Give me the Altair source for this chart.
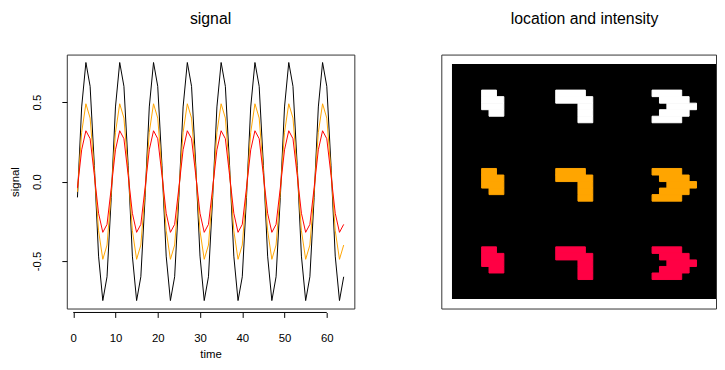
import altair as alt
import pandas as pd

# ---------------- data: signal panel ----------------
time = list(range(1, 65))
black_signal = [
    -0.10, 0.47, 0.75, 0.60, 0.10, -0.47, -0.75, -0.60,
    -0.10, 0.47, 0.75, 0.60, 0.10, -0.47, -0.75, -0.60,
    -0.10, 0.47, 0.75, 0.60, 0.10, -0.47, -0.75, -0.60,
    -0.10, 0.47, 0.75, 0.60, 0.10, -0.47, -0.75, -0.60,
    -0.10, 0.47, 0.75, 0.60, 0.10, -0.47, -0.75, -0.60,
    -0.10, 0.47, 0.75, 0.60, 0.10, -0.47, -0.75, -0.60,
    -0.10, 0.47, 0.75, 0.60, 0.10, -0.47, -0.75, -0.60,
    -0.10, 0.47, 0.75, 0.60, 0.10, -0.47, -0.75, -0.60,
]
orange_signal = [
    -0.065, 0.31, 0.49, 0.40, 0.065, -0.31, -0.49, -0.40,
    -0.065, 0.31, 0.49, 0.40, 0.065, -0.31, -0.49, -0.40,
    -0.065, 0.31, 0.49, 0.40, 0.065, -0.31, -0.49, -0.40,
    -0.065, 0.31, 0.49, 0.40, 0.065, -0.31, -0.49, -0.40,
    -0.065, 0.31, 0.49, 0.40, 0.065, -0.31, -0.49, -0.40,
    -0.065, 0.31, 0.49, 0.40, 0.065, -0.31, -0.49, -0.40,
    -0.065, 0.31, 0.49, 0.40, 0.065, -0.31, -0.49, -0.40,
    -0.065, 0.31, 0.49, 0.40, 0.065, -0.31, -0.49, -0.40,
]
red_signal = [
    -0.04, 0.20, 0.32, 0.27, 0.04, -0.20, -0.32, -0.27,
    -0.04, 0.20, 0.32, 0.27, 0.04, -0.20, -0.32, -0.27,
    -0.04, 0.20, 0.32, 0.27, 0.04, -0.20, -0.32, -0.27,
    -0.04, 0.20, 0.32, 0.27, 0.04, -0.20, -0.32, -0.27,
    -0.04, 0.20, 0.32, 0.27, 0.04, -0.20, -0.32, -0.27,
    -0.04, 0.20, 0.32, 0.27, 0.04, -0.20, -0.32, -0.27,
    -0.04, 0.20, 0.32, 0.27, 0.04, -0.20, -0.32, -0.27,
    -0.04, 0.20, 0.32, 0.27, 0.04, -0.20, -0.32, -0.27,
]
series_names = ["black", "orange", "red"]
series_colors = ["#000000", "#FFA500", "#FF0000"]
x_ticks = [0, 10, 20, 30, 40, 50, 60]
y_ticks = [-0.5, 0.0, 0.5]

# ---------------- data: image panel ----------------
n_rows = 36
n_cols = 36
block_rows = [4, 16, 28]
block_colors = ["#FFFFFF", "#FFA500", "#FF0044"]
shape_cols = [4, 14, 27]
# each shape: per row, the [first, last] column offsets of its filled run
shape_small = [[0, 1], [0, 2], [0, 2], [1, 2]]
shape_hook = [[0, 3], [0, 4], [3, 4], [3, 4], [3, 4]]
shape_arrow = [[0, 3], [1, 4], [2, 5], [1, 4], [0, 3]]
shapes = [shape_small, shape_hook, shape_arrow]

FONT = "Liberation Sans"

# ---------------- left panel ----------------
W1, H = 291, 257
sig_df = pd.DataFrame({
    "time": time * 3,
    "signal": black_signal + orange_signal + red_signal,
    "series": ["black"] * 64 + ["orange"] * 64 + ["red"] * 64,
})

xs = alt.Scale(domain=[-1.52, 66.52], nice=False, zero=False, padding=0)
ys = alt.Scale(domain=[-0.80, 0.80], nice=False, zero=False, padding=0)

xaxis = alt.Axis(values=x_ticks, title="time", grid=False, domain=False,
                 tickSize=5, tickColor="black", offset=4,
                 labelFont=FONT, labelFontSize=11.5, labelColor="black",
                 labelBaseline="top", labelPadding=15, labelFlush=False,
                 labelOverlap=False, format="d",
                 titleFont=FONT, titleFontSize=11.5, titleFontWeight="normal",
                 titleColor="black", titleBaseline="top", titlePadding=5)
yaxis = alt.Axis(values=y_ticks, title="signal", grid=False, domain=False,
                 tickSize=5, tickColor="black",
                 labelFont=FONT, labelFontSize=11.5, labelColor="black",
                 labelAngle=270, labelAlign="center", labelBaseline="alphabetic",
                 labelPadding=22, labelFlush=False, labelOverlap=False,
                 labelExpr="(datum.value < 0 ? '-' : '') + format(abs(datum.value), '.1f')",
                 titleFont=FONT, titleFontSize=11.5, titleFontWeight="normal",
                 titleColor="black", titleAngle=270, titleAlign="center",
                 titleBaseline="alphabetic", titleX=-49, titleY=H / 2)

layers = []
for name, col in zip(series_names, series_colors):
    layers.append(
        alt.Chart(sig_df).transform_filter(alt.datum.series == name)
        .mark_line(color=col, strokeWidth=1)
        .encode(x=alt.X("time:Q", scale=xs, axis=xaxis),
                y=alt.Y("signal:Q", scale=ys, axis=yaxis))
    )

axis_line = alt.Chart(pd.DataFrame({"a": [x_ticks[0]], "b": [x_ticks[-1]]})).mark_rule(
    color="black", strokeWidth=1, clip=False
).encode(x=alt.X("a:Q", scale=xs, axis=xaxis), x2="b", y=alt.value(H + 4))

left = alt.layer(*layers, axis_line).properties(
    width=W1, height=H,
    title=alt.TitleParams("signal", font=FONT, fontSize=16, fontWeight="normal",
                          color="black", anchor="middle", baseline="top", offset=28),
)

# ---------------- right panel ----------------
W2 = 278
cells = []
for b_row, b_col in zip(block_rows, block_colors):
    for s_col, shape in zip(shape_cols, shapes):
        for dr, (first, last) in enumerate(shape):
            r = b_row + dr
            cells.append({"c0": s_col + first, "c1": s_col + last + 1,
                          "r0": r, "r1": r + 1, "color": b_col})
cells_df = pd.DataFrame(cells)
bg_df = pd.DataFrame({"c0": [0], "c1": [n_cols], "r0": [0], "r1": [n_rows]})

cs = alt.Scale(domain=[-1.44, 35.63], nice=False, zero=False, padding=0)
rs = alt.Scale(domain=[-1.44, 37.44], nice=False, zero=False, reverse=True, padding=0)

bg = alt.Chart(bg_df).mark_rect(color="black", clip=True).encode(
    x=alt.X("c0:Q", scale=cs, axis=None), x2="c1",
    y=alt.Y("r0:Q", scale=rs, axis=None), y2="r1")
px = alt.Chart(cells_df).mark_rect(strokeWidth=1, clip=True).encode(
    x=alt.X("c0:Q", scale=cs, axis=None), x2="c1",
    y=alt.Y("r0:Q", scale=rs, axis=None), y2="r1",
    color=alt.Color("color:N", scale=None),
    stroke=alt.Stroke("color:N", scale=None))

right = alt.layer(bg, px).properties(
    width=W2, height=H,
    title=alt.TitleParams("location and intensity", font=FONT, fontSize=16,
                          fontWeight="normal", color="black", anchor="middle",
                          baseline="top", offset=28, dx=6),
)

chart = alt.hconcat(left, right, spacing=86).properties(
    padding={"left": 0.5, "top": 0, "right": 0, "bottom": 0},
    background="white",
).configure_view(stroke="#333333", strokeWidth=1)

chart.save("out.html", embed_options={"renderer": "svg", "actions": False})
